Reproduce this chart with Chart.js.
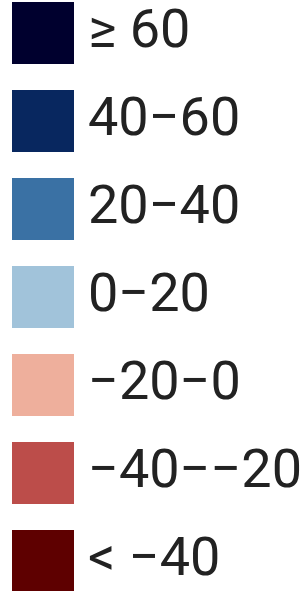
<!DOCTYPE html>
<html>
<head>
<meta charset="utf-8">
<script src="https://cdn.jsdelivr.net/npm/chart.js@4"></script>
<style>
  html, body { margin: 0; padding: 0; background: #fff; }
  #wrap { width: 308px; height: 591px; }
</style>
</head>
<body>
<div id="wrap"><canvas id="chart"></canvas></div>
<script>
// Legend classes (top to bottom)
const classes = ['≥ 60', '40−60', '20−40', '0−20', '−20−0', '−40−−20', '< −40']
const colors  = ['#00002e', '#08275f', '#3a71a4', '#a1c3da', '#eeaf9c', '#bc4d4a', '#5e0000']

// box drawn as a 36px rect + 26px stroke of the same colour => 62px swatch
const stroke = 26

new Chart(document.getElementById('chart'), {
  type: 'bar',
  data: {
    labels: [],
    datasets: classes.map((c, i) => ({
      label: c,
      data: [],
      backgroundColor: colors[i],
      borderColor: colors[i],
      borderWidth: stroke,
    })),
  },
  options: {
    responsive: true,
    maintainAspectRatio: false,
    animation: false,
    layout: { padding: { left: -9, top: -28, bottom: -40, right: 0 } },
    scales: { x: { display: false }, y: { display: false } },
    plugins: {
      tooltip: { enabled: false },
      legend: {
        position: 'left',
        align: 'start',
        maxWidth: 330,
        labels: {
          boxWidth: 36,
          boxHeight: 36,
          padding: 34,
          color: '#222',
          font: { family: 'Roboto', size: 54 },
        },
      },
    },
  },
})
</script>
</body>
</html>
